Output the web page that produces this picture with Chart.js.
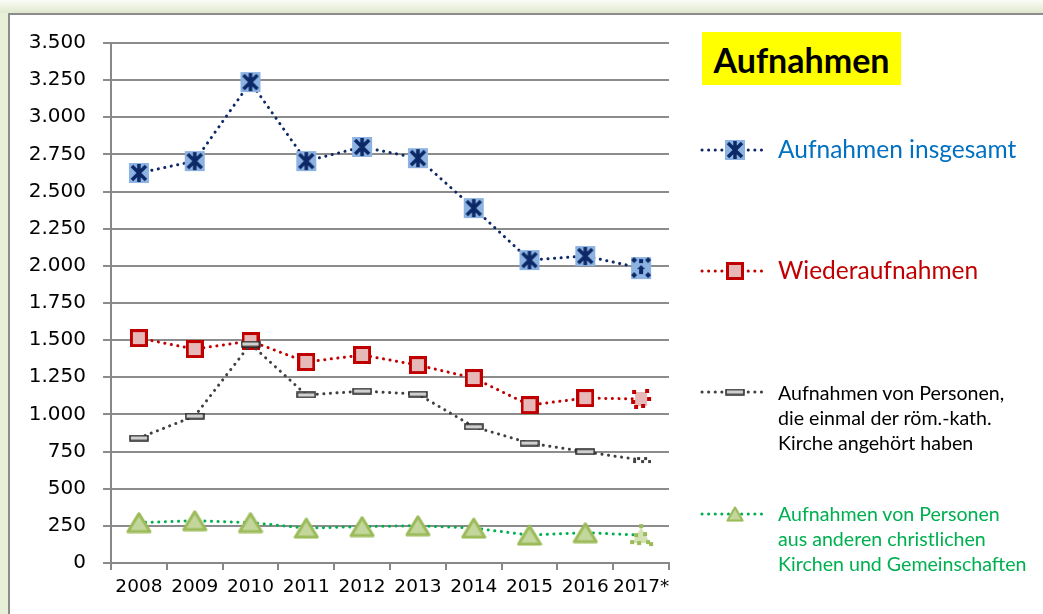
<!DOCTYPE html>
<html>
<head>
<meta charset="utf-8">
<script src="https://cdn.jsdelivr.net/npm/chart.js@4/dist/chart.umd.min.js"></script>
<style>
    body { margin: 0; width: 1043px; height: 614px; overflow: hidden; background: #e8efd9; }
    .frame {
        position: absolute; left: 0; top: 0; width: 1043px; height: 614px;
        background: linear-gradient(#fbfcf8, #dfe8cc 13px, #e8efd9 13px);
    }
    .inner {
        position: absolute; left: 8px; top: 13px; width: 1040px; height: 610px;
        background: #fff; border-left: 2px solid #8c8c8c; border-top: 2px solid #8c8c8c;
    }
    #chartWrap { position: absolute; left: 0; top: 0; width: 1043px; height: 614px; }
    .title {
        position: absolute; left: 702px; top: 32px; width: 199px; height: 53px;
        background: #ffff00; font: bold 34px Lato, sans-serif; color: #000;
        line-height: 55px; text-align: center;
    }
    .lg { position: absolute; left: 778px; font-family: Lato, sans-serif; white-space: nowrap; }
    .lg.big { font-size: 24.5px; line-height: 28px; }
    .lg.small { font-size: 19.6px; line-height: 25px; }
</style>
</head>
<body>
<div class="frame"></div>
<div class="inner"></div>
<div id="chartWrap"><canvas id="aufnahmenChart" width="1043" height="614"></canvas></div>
<div class="title">Aufnahmen</div>
<div class="lg big" style="top:135px;color:#0070c0">Aufnahmen insgesamt</div>
<div class="lg big" style="top:256px;color:#c00000">Wiederaufnahmen</div>
<div class="lg small" style="top:380px;color:#000">Aufnahmen von Personen,<br>die einmal der röm.-kath.<br>Kirche angehört haben</div>
<div class="lg small" style="top:501px;color:#00b050">Aufnahmen von Personen<br>aus anderen christlichen<br>Kirchen und Gemeinschaften</div>

<script>
const years = ['2008', '2009', '2010', '2011', '2012', '2013', '2014', '2015', '2016', '2017*'];
const insgesamt = [2625, 2705, 3237, 2705, 2800, 2725, 2389, 2039, 2066, 1985];
const wiederaufnahmen = [1514, 1440, 1494, 1353, 1400, 1332, 1245, 1063, 1110, 1104];
const ehemalsKatholisch = [841, 989, 1474, 1131, 1157, 1137, 917, 807, 749, 693];
const andereKirchen = [272, 285, 272, 235, 245, 251, 235, 188, 204, 188];
const yTicks = [0, 250, 500, 750, 1000, 1250, 1500, 1750, 2000, 2250, 2500, 2750, 3000, 3250, 3500];

function makeCanvas(w, h, draw) {
    const c = document.createElement('canvas');
    c.width = w; c.height = h;
    draw(c.getContext('2d'));
    return c;
}

// marker images
const blueMark = makeCanvas(22, 22, g => {
    g.fillStyle = '#8db3e2';
    g.fillRect(1, 1, 20, 20);
    g.strokeStyle = '#0c2866'; g.lineWidth = 3.5;
    g.beginPath();
    g.moveTo(4, 4); g.lineTo(18, 18);
    g.moveTo(18, 4); g.lineTo(4, 18);
    g.moveTo(11, 2); g.lineTo(11, 20);
    g.stroke();
});
const blueMark17 = makeCanvas(24, 24, g => {
    g.fillStyle = '#8db3e2';
    g.fillRect(2, 1, 20, 22);
    g.fillStyle = '#0c2866';
    [[5, 4], [19, 4], [5, 19], [19, 19]].forEach(([x, y]) => {
        g.beginPath(); g.moveTo(x, y - 3); g.lineTo(x + 3, y); g.lineTo(x, y + 3); g.lineTo(x - 3, y); g.fill();
    });
    g.fillRect(10, 3, 4, 4);
    g.beginPath(); g.moveTo(12, 9); g.lineTo(16, 13); g.lineTo(8, 13); g.fill();
    g.fillRect(10, 13, 4, 5);
});
const redMark = makeCanvas(18, 18, g => {
    g.fillStyle = '#e6b9b8'; g.fillRect(1.5, 1.5, 15, 15);
    g.strokeStyle = '#c00000'; g.lineWidth = 3; g.strokeRect(1.5, 1.5, 15, 15);
});
const redMark17 = makeCanvas(22, 22, g => {
    g.fillStyle = '#e6b9b8'; g.fillRect(5, 4, 12, 14);
    g.fillStyle = '#c00000';
    [[2, 2], [15, 1], [17, 9], [1, 12], [11, 16], [4, 17]].forEach(([x, y]) => g.fillRect(x, y, 4, 4));
});
const grayMark = makeCanvas(20, 7, g => {
    g.fillStyle = '#d0d0d0'; g.fillRect(1, 1, 18, 5);
    g.strokeStyle = '#262626'; g.lineWidth = 1.5; g.strokeRect(1, 1, 18, 5);
});
const grayMark17 = makeCanvas(20, 8, g => {
    g.fillStyle = '#404040';
    [[2, 4], [6, 1], [10, 4], [13, 1], [17, 4]].forEach(([x, y]) => g.fillRect(x, y, 3, 3));
});
const greenMark = makeCanvas(26, 22, g => {
    g.beginPath(); g.moveTo(13, 2); g.lineTo(24, 20); g.lineTo(2, 20); g.closePath();
    g.fillStyle = '#c3d69b'; g.fill();
    g.strokeStyle = '#9bbb59'; g.lineWidth = 3; g.lineJoin = 'round'; g.stroke();
});
const greenMark17 = makeCanvas(26, 24, g => {
    g.beginPath(); g.moveTo(13, 4); g.lineTo(22, 20); g.lineTo(4, 20); g.closePath();
    g.fillStyle = '#d3e2b4'; g.fill();
    g.fillStyle = '#9bbb59';
    [[11, 1], [6, 10], [15, 9], [2, 17], [9, 18], [18, 17], [21, 19]].forEach(([x, y]) => g.fillRect(x, y, 4, 4));
});

function series(label, data, color, mark, mark17) {
    return {
        label, data,
        borderColor: color,
        borderWidth: 3,
        borderDash: [0.1, 6.5],
        borderCapStyle: 'round',
        tension: 0,
        fill: false,
        pointStyle: ctx => ctx.dataIndex === years.length - 1 ? mark17 : mark,
        pointRadius: 10,
        pointHoverRadius: 10
    };
}

// legend samples drawn next to the html labels
const legendSamples = {
    id: 'legendSamples',
    afterDraw(chart) {
        const g = chart.ctx;
        const rows = [
            [150, '#0c2866', blueMark],
            [271, '#c00000', redMark],
            [392, '#404040', grayMark],
            [514, '#00b050', greenMark]
        ];
        rows.forEach(([y, color, mark]) => {
            g.save();
            g.strokeStyle = color; g.lineWidth = 3; g.lineCap = 'round';
            g.setLineDash([0.1, 6.5]);
            g.beginPath(); g.moveTo(702, y); g.lineTo(767, y); g.stroke();
            g.restore();
            const m = mark === greenMark ? makeCanvas(18, 16, c => c.drawImage(greenMark, 0, 0, 18, 16)) : mark;
            g.drawImage(m, 735 - m.width / 2, y - m.height / 2);
        });
    }
};

new Chart(document.getElementById('aufnahmenChart').getContext('2d'), {
    type: 'line',
    data: {
        labels: years,
        datasets: [
            series('Aufnahmen von Personen aus anderen christlichen Kirchen und Gemeinschaften', andereKirchen, '#00b050', greenMark, greenMark17),
            series('Aufnahmen von Personen, die einmal der röm.-kath. Kirche angehört haben', ehemalsKatholisch, '#404040', grayMark, grayMark17),
            series('Wiederaufnahmen', wiederaufnahmen, '#c00000', redMark, redMark17),
            series('Aufnahmen insgesamt', insgesamt, '#0c2866', blueMark, blueMark17)
        ]
    },
    options: {
        responsive: false,
        animation: false,
        layout: { padding: { left: 0, top: 43, right: 374, bottom: 0 } },
        plugins: {
            legend: { display: false },
            tooltip: { enabled: false }
        },
        scales: {
            x: {
                offset: true,
                grid: { offset: true, drawOnChartArea: false, color: '#888', lineWidth: 2, tickLength: 7 },
                border: { color: '#888', width: 2 },
                ticks: { color: '#000', font: { family: 'DejaVu Sans', size: 18.5 }, padding: 6, maxRotation: 0, autoSkip: false },
                afterFit: s => { s.height = 51; }
            },
            y: {
                min: 0, max: 3500,
                afterBuildTicks: s => { s.ticks = yTicks.map(v => ({ value: v })); },
                grid: { color: '#8c8c8c', lineWidth: 2, tickLength: 8 },
                border: { color: '#888', width: 2 },
                ticks: {
                    color: '#000', font: { family: 'DejaVu Sans', size: 20 }, padding: 17,
                    callback: v => String(v).replace(/\B(?=(\d{3})+(?!\d))/g, '.')
                },
                afterFit: s => { s.width = 111; }
            }
        }
    },
    plugins: [legendSamples]
});
</script>
</body>
</html>
